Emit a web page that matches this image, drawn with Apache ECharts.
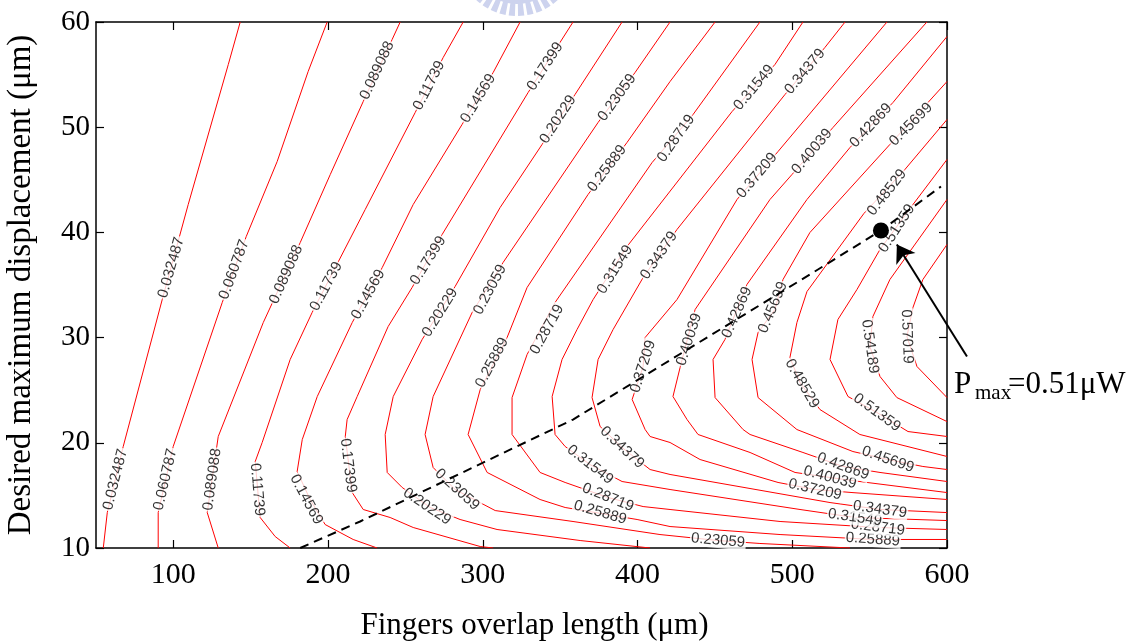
<!DOCTYPE html>
<html>
<head>
<meta charset="utf-8">
<script src="https://cdn.jsdelivr.net/npm/echarts@6/dist/echarts.min.js"></script>
<style>
html,body{margin:0;padding:0;background:#fff}
#chart{width:1139px;height:642px}
</style>
</head>
<body>
<div id="chart"></div>
<script>
// Axis ticks
const xTicks = [100, 200, 300, 400, 500, 600];
const yTicks = [10, 20, 30, 40, 50, 60];

// Power contour levels (µW)
const levels = [0.032487, 0.060787, 0.089088, 0.11739, 0.14569, 0.17399, 0.20229,
  0.23059, 0.25889, 0.28719, 0.31549, 0.34379, 0.37209, 0.40039, 0.42869,
  0.45699, 0.48529, 0.51359, 0.54189, 0.57019];

// Iso-power curves: [overlap length (µm), displacement (µm)]
const c01 = [[143.2,60],[135.5,55.96],[109.6,42.65],[92.8,33.62],[67.6,19.65],[57.3,13.37],[54.7,10]];
const c02 = [[199.4,60],[187.1,55.29],[167.1,46.74],[147.1,39.61],[131.6,33.34],[99.9,19.65],[90.2,13.37],[90.2,10]];
const c03 = [[246.6,60],[241.4,58.34],[222.7,52.44],[201.4,45.5],[182.0,39.04],[158.1,31.43],[129.0,20.6],[121.9,13.37],[129.0,10]];
const c04 = [[287.3,60],[274.4,56.63],[256.3,51.4],[224.0,42.18],[189.7,32.39],[175.5,27.92],[157.4,20.03],[152.9,18.22],[156.1,12.9],[165.8,11.09],[175.5,10]];
const c05 = [[324.1,60],[306.7,55.2],[286.6,50.26],[255.0,42.65],[235.0,36.66],[215.6,31.43],[193.0,24.4],[183.3,20.31],[180.0,17.27],[188.4,14.61],[198.1,12.23],[216.2,10.81],[231.7,10]];
const c06 = [[358.3,60],[329.3,53.3],[273.7,39.8],[254.3,34.76],[238.8,31.05],[218.8,24.4],[212.3,22.21],[211.1,20.6],[215.6,15.27],[222.7,13.66],[240.1,12.9],[255.0,11.95],[298.3,10.14],[306.7,10]];
const c07 = [[390.0,60],[359.6,53.11],[338.3,48.36],[311.2,42.37],[282.1,34.86],[260.8,29.82],[242.1,24.4],[236.9,20.79],[238.2,17.18],[247.9,15.75],[266.0,13.85],[285.3,12.71],[309.2,11.76],[362.9,10.71],[408.1,10]];
const c08 = [[421.0,60],[398.4,55.2],[374.5,50.45],[313.1,37.14],[293.1,32.39],[267.9,24.4],[262.7,20.79],[267.9,17.65],[282.1,15.56],[308.0,13.56],[358.3,12.52],[414.5,11.28],[452.0,10.71],[479.1,10.43],[537.3,10]];
const c09 = [[450.1,60],[421.0,54.34],[393.2,48.55],[368.0,43.6],[328.6,34.76],[315.7,30.01],[298.3,25.06],[290.5,20.79],[302.8,17.18],[337.0,14.61],[353.2,13.85],[399.7,12.71],[421.0,12.04],[492.1,11.28],[552.1,10.81],[600,10.81]];
const c10 = [[479.1,60],[435.9,51.21],[409.4,46.64],[346.7,33.34],[328.6,28.39],[318.9,24.3],[318.9,20.79],[337.0,17.18],[353.2,16.23],[380.9,14.8],[403.6,13.94],[421.0,13.66],[492.1,12.52],[555.4,11.95],[600,11.76]];
const c11 = [[506.9,60],[488.8,55.96],[461.1,51.49],[393.2,38.66],[371.3,33.62],[360.9,30.77],[351.2,27.92],[344.8,24.4],[346.7,20.79],[353.2,19.65],[369.3,17.93],[390.0,16.32],[421.0,15.56],[505.0,13.66],[540.5,12.9],[600,12.61]];
const c12 = [[534.1,60],[521.1,57.58],[495.3,53.11],[425.5,40.28],[403.6,35.71],[384.2,30.77],[374.5,27.92],[370.6,24.3],[375.8,21.55],[390.0,19.55],[408.1,17.46],[421.0,16.99],[524.4,14.32],[556.7,13.66],[600,13.37]];
const c13 = [[561.2,60],[490.8,47.69],[464.3,43.13],[425.5,33.62],[404.9,30.01],[403.6,27.25],[396.5,24.12],[404.9,21.26],[408.1,20.6],[421.0,20.03],[440.4,18.41],[490.8,16.23],[514.7,15.56],[538.6,15.27],[600,14.61]];
const c14 = [[587.0,60],[526.3,49.97],[499.8,45.5],[485.6,43.13],[437.2,32.67],[427.5,27.16],[422.9,24.4],[432.0,22.21],[439.1,20.79],[472.7,19.08],[501.8,17.18],[524.4,16.7],[548.3,16.23],[600,15.27]];
const c15 = [[600,58.62],[565.1,52.35],[537.3,48.07],[509.5,43.13],[470.7,35.05],[456.5,29.82],[448.8,27.92],[450.1,24.3],[468.2,21.26],[472.7,20.79],[506.9,19.08],[532.8,17.75],[556.7,17.18],[600,16.32]];
const c16 = [[600,54.34],[563.1,48.36],[511.4,39.99],[494.0,35.52],[488.8,32.67],[477.9,30.48],[474.0,27.92],[477.9,24.3],[503.0,21.26],[539.2,19.17],[561.8,18.41],[584.4,17.75],[600,17.46]];
const c17 = [[600,50.73],[572.8,45.98],[546.3,41.8],[509.5,34.38],[503.0,31.43],[498.5,28.11],[505.0,25.73],[517.9,23.16],[543.7,20.79],[600,18.7]];
const c18 = [[600,46.93],[578.0,42.65],[556.7,38.38],[541.8,34.57],[529.5,31.72],[524.4,27.92],[536.0,24.4],[554.7,22.88],[574.8,21.07],[600,20.6]];
const c19 = [[600,43.13],[563.1,35.52],[552.1,32.0],[550.2,29.15],[556.7,26.3],[567.6,24.3],[600,22.02]];
const c20 = [[600,38.85],[584.4,35.52],[578.0,32.86],[574.1,30.1],[580.6,27.25],[600,24.3]];

// In-line level labels: [level index, overlap length, displacement]
const labelSpots = [
  [0,98.6,36.66],[0,62.5,16.51],
  [1,139.3,36.47],[1,94.8,16.51],
  [2,231.7,55.39],[2,172.9,36.0],[2,125.1,16.51],
  [3,265.3,53.96],[3,198.8,34.86],[3,154.2,15.56],
  [4,297.0,52.73],[4,225.9,34.1],[4,185.9,14.61],
  [5,340.3,55.77],[5,264.7,37.33],[5,213.0,17.84],
  [6,348.6,50.73],[6,272.4,32.39],[6,264.0,13.94],
  [7,386.8,52.82],[7,304.7,34.57],[7,283.4,15.56],[7,452.0,10.71],
  [8,380.3,46.07],[8,306.0,27.63],[8,375.8,13.37],[8,552.1,10.81],
  [9,424.9,48.93],[9,341.5,30.77],[9,380.9,14.8],[9,555.4,11.95],
  [10,475.3,53.77],[10,385.5,36.47],[10,369.3,17.93],[10,540.5,12.9],
  [11,508.2,55.29],[11,413.9,37.8],[11,390.0,19.55],[11,556.7,13.66],
  [12,477.2,45.41],[12,403.6,27.25],[12,514.7,15.56],
  [13,512.7,47.69],[13,433.3,29.82],[13,524.4,16.7],
  [14,550.9,50.16],[14,464.3,32.39],[14,532.8,17.75],
  [15,576.7,50.26],[15,487.5,32.86],[15,561.8,18.41],
  [16,561.2,43.79],[16,506.3,25.63],
  [17,567.6,40.37],[17,554.7,22.88],
  [18,550.2,29.15],
  [19,574.1,30.1]
];

// Ridge of maximum power and the optimum point
const ridge = [[182.0,10],[220.7,12.52],[358.3,22.21],[511.4,36.0],[557.3,40.18],[596.1,44.36]];
const pmaxPoint = [557.3, 40.18];
const pmaxValue = 0.51;
const arrowFrom = [612.9, 28.2];
const arrowTo = [567.6, 38.85];

const contours = [c01,c02,c03,c04,c05,c06,c07,c08,c09,c10,c11,c12,c13,c14,c15,c16,c17,c18,c19,c20];

// text angle (deg, screen space) for each entry of labelSpots
const labelTilt = [
  74,76, 70,77, 65,66,82, 63,62,-85, 59,61,-62, 57,58,-83, 57,58,-34,
  54,62,-42,-5, 53,62,-16,-4, 55,61,-22,-7, 50,58,-38,-8, 50,56,-43,-8,
  50,72,-13, 50,72,-15, 47,66,-20, 45,67,-19, 52,-60, 57,-36, -82, -88
];

const SERIF = '"Liberation Serif","Times New Roman",serif';
const SANS = '"Liberation Sans",Arial,sans-serif';

const chart = echarts.init(document.getElementById('chart'), null, {renderer: 'canvas'});

const frameLine = {show: true, onZero: false, lineStyle: {color: '#000', width: 1.5}};
const tickStyle = {color: '#000', width: 1.2};

const series = contours.map((pts, i) => ({
  type: 'line',
  name: String(levels[i]),
  data: pts,
  symbol: 'none',
  showSymbol: false,
  silent: true,
  lineStyle: {color: '#ff0000', width: 1},
  z: 2
}));

series.push({
  type: 'scatter',
  silent: true,
  symbolSize: 1,
  itemStyle: {color: 'rgba(0,0,0,0)'},
  label: {
    show: true,
    position: 'inside',
    fontFamily: SANS,
    fontSize: 15,
    color: '#000',
    backgroundColor: '#fff',
    padding: [0, 1]
  },
  data: labelSpots.map((s, k) => ({
    value: [s[1], s[2]],
    label: {rotate: labelTilt[k], formatter: String(levels[s[0]])}
  })),
  z: 3
});

series.push({
  type: 'line',
  data: ridge,
  symbol: 'none',
  silent: true,
  lineStyle: {color: '#000', width: 2, type: [9, 6]},
  z: 4
});

series.push({
  type: 'lines',
  coordinateSystem: 'cartesian2d',
  clip: false,
  silent: true,
  symbol: ['none', 'arrow'],
  symbolSize: 17,
  lineStyle: {color: '#000', width: 2, opacity: 1, curveness: 0},
  data: [{coords: [arrowFrom, arrowTo]}],
  z: 6
});

series.push({
  type: 'scatter',
  silent: true,
  data: [pmaxPoint],
  symbol: 'circle',
  symbolSize: 16,
  itemStyle: {color: '#000', opacity: 1},
  z: 7
});

// faint emblem peeking in above the frame: an inner band plus a ring of teeth
const emblem = [{type: 'sector', silent: true, z: -1,
  shape: {cx: 517, cy: -44, r0: 34, r: 48, startAngle: 0, endAngle: Math.PI},
  style: {fill: '#cdd3ee'}}];
for (let a = 20; a < 160; a += 9) {
  emblem.push({type: 'sector', silent: true, z: -1,
    shape: {cx: 517, cy: -44, r0: 47, r: 60,
      startAngle: a * Math.PI / 180, endAngle: (a + 6) * Math.PI / 180},
    style: {fill: '#cdd3ee'}});
}

chart.setOption({
  animation: false,
  backgroundColor: '#fff',
  grid: {left: 96, top: 22, width: 851, height: 526, show: false,
    containLabel: false, outerBoundsMode: 'none'},
  xAxis: [{
    type: 'value', min: 50, max: 600, position: 'bottom',
    name: 'Fingers overlap length (μm)', nameLocation: 'middle', nameGap: 62,
    nameTextStyle: {fontFamily: SERIF, fontSize: 31, color: '#000', padding: [0, 0, 0, 26]},
    axisLine: frameLine,
    axisTick: {show: true, inside: true, length: 8, customValues: xTicks, lineStyle: tickStyle},
    axisLabel: {customValues: xTicks, fontFamily: SERIF, fontSize: 30, color: '#000', margin: 12},
    splitLine: {show: false}
  }, {
    type: 'value', min: 50, max: 600, position: 'top',
    axisLine: frameLine,
    axisTick: {show: true, inside: true, length: 8, customValues: xTicks, lineStyle: tickStyle},
    axisLabel: {show: false},
    splitLine: {show: false}
  }],
  yAxis: [{
    type: 'value', min: 10, max: 60, interval: 10, position: 'left',
    name: 'Desired maximum displacement (μm)', nameLocation: 'middle', nameGap: 58,
    nameTextStyle: {fontFamily: SERIF, fontSize: 33, color: '#000'},
    axisLine: frameLine,
    axisTick: {show: true, inside: true, length: 8, lineStyle: tickStyle},
    axisLabel: {fontFamily: SERIF, fontSize: 29, color: '#000', margin: 6,
      formatter: v => (yTicks.indexOf(v) >= 0 ? String(v) : '')},
    splitLine: {show: false}
  }, {
    type: 'value', min: 10, max: 60, interval: 10, position: 'right',
    axisLine: frameLine,
    axisTick: {show: true, inside: true, length: 8, lineStyle: tickStyle},
    axisLabel: {show: false},
    splitLine: {show: false}
  }],
  graphic: emblem.concat([
    {type: 'text', left: 954, top: 369, silent: true,
      style: {text: 'P', font: '31px ' + SERIF, fill: '#000'}},
    {type: 'text', left: 975, top: 383, silent: true,
      style: {text: 'max', font: '21px ' + SERIF, fill: '#000'}},
    {type: 'text', left: 1008, top: 369, silent: true,
      style: {text: '=' + pmaxValue + 'μW', font: '31px ' + SERIF, fill: '#000'}}
  ]),
  series: series
});
</script>
</body>
</html>
